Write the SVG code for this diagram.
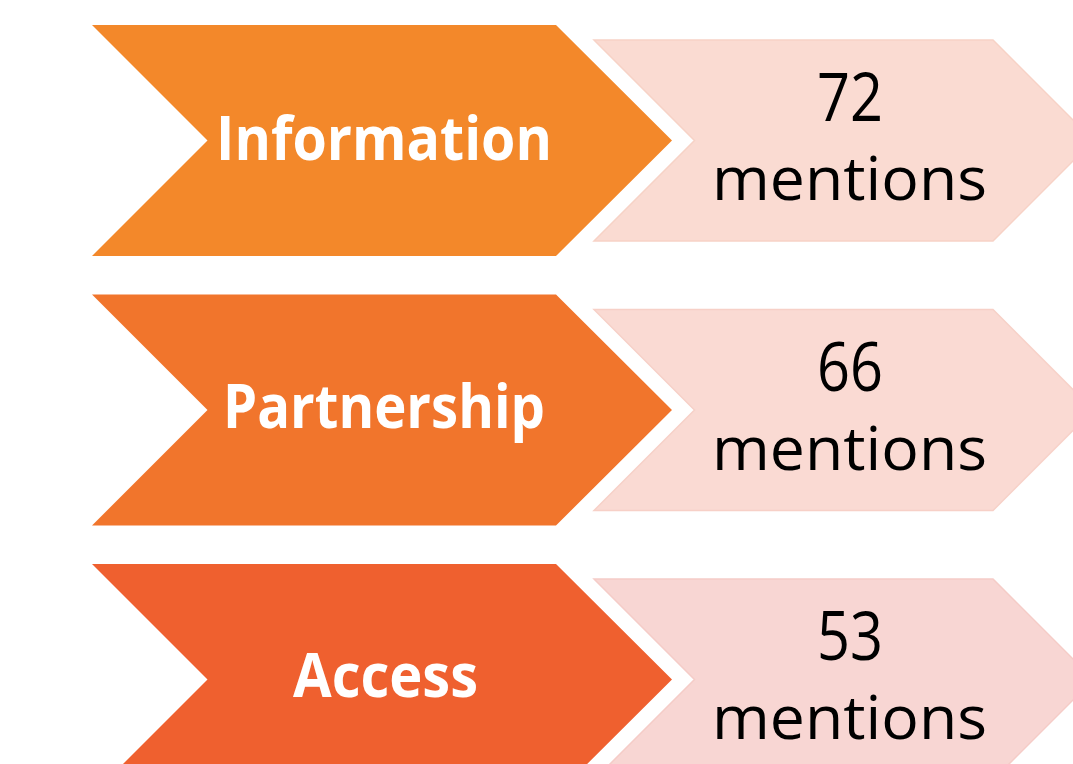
<svg xmlns="http://www.w3.org/2000/svg" width="1073" height="764" viewBox="0 0 1073 764">
  <defs>
    <style>
      .label { font-family: "Open Sans", "Liberation Sans", sans-serif; font-weight: 700; fill: #FFFFFF; text-anchor: middle; font-size: 60px; }
      .count { font-family: "Open Sans", "Liberation Sans", sans-serif; font-weight: 400; fill: #000000; text-anchor: middle; }
      .num { font-size: 67px; }
      .word { font-size: 60px; }
      .tag { stroke-width: 1.5; }
    </style>
    <!-- chevron outlines, reused for every row -->
    <polygon id="bigChevron" points="92,25 556,25 672,140.5 556,256 92,256 207.5,140.5"/>
    <polygon id="smallChevron" points="594,40 993,40 1093.5,140.5 993,241 594,241 694.5,140.5"/>
  </defs>

  <rect width="1073" height="764" fill="#FFFFFF"/>

  <!-- row 1 -->
  <g id="information">
    <use href="#bigChevron" fill="#F3882A"/>
    <text class="label" x="384" y="160" textLength="336" lengthAdjust="spacingAndGlyphs">Information</text>
  </g>
  <g id="information-count">
    <use href="#smallChevron" class="tag" fill="#FADBD2" stroke="#F7D2C6"/>
    <text class="count num" x="850" y="121" textLength="66" lengthAdjust="spacingAndGlyphs">72</text>
    <text class="count word" x="849.5" y="200" textLength="275" lengthAdjust="spacingAndGlyphs">mentions</text>
  </g>

  <!-- row 2 -->
  <g id="partnership" transform="translate(0,269.5)">
    <use href="#bigChevron" fill="#F1752C"/>
    <text class="label" x="384" y="158.5" textLength="322" lengthAdjust="spacingAndGlyphs">Partnership</text>
  </g>
  <g id="partnership-count" transform="translate(0,269.5)">
    <use href="#smallChevron" class="tag" fill="#FADAD3" stroke="#F7D0C7"/>
    <text class="count num" x="850" y="121" textLength="66" lengthAdjust="spacingAndGlyphs">66</text>
    <text class="count word" x="849.5" y="200" textLength="275" lengthAdjust="spacingAndGlyphs">mentions</text>
  </g>

  <!-- row 3 -->
  <g id="access" transform="translate(0,539)">
    <use href="#bigChevron" fill="#EF602F"/>
    <text class="label" x="385.5" y="158" textLength="185" lengthAdjust="spacingAndGlyphs">Access</text>
  </g>
  <g id="access-count" transform="translate(0,539)">
    <use href="#smallChevron" class="tag" fill="#F8D6D3" stroke="#F5CCC7"/>
    <text class="count num" x="850" y="121" textLength="66" lengthAdjust="spacingAndGlyphs">53</text>
    <text class="count word" x="849.5" y="200" textLength="275" lengthAdjust="spacingAndGlyphs">mentions</text>
  </g>

  <!-- no connectors in this figure -->
  <g id="connectors"/>
</svg>
